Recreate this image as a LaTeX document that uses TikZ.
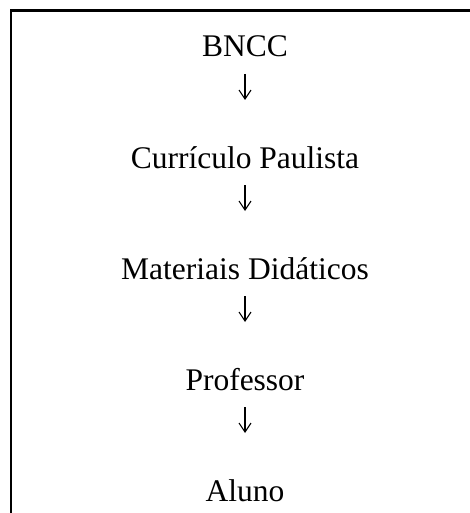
\documentclass[tikz,border=0pt]{standalone}
\usepackage{fontspec}
\setmainfont{Liberation Serif}
\usetikzlibrary{arrows.meta}
\begin{document}
\begin{tikzpicture}[x=1pt,y=1pt,
  lbl/.style={anchor=base,inner sep=0pt,font=\fontsize{31.5}{37}\selectfont},
  arr/.style={line width=1.1pt,-{Straight Barb[length=9pt,width=12pt]},shorten <=17pt,shorten >=68pt},
  frame/.style={line width=2.3pt,line join=miter}]
\useasboundingbox (0,0) rectangle (470,-513);
\fill[white] (0,0) rectangle (470,-513);
\draw[frame] (11,-520) -- (11,-10.5) -- (480,-10.5);
\node[lbl] (n1) at (245,-57) {BNCC};
\node[lbl] (n2) at (245,-168) {Currículo Paulista};
\node[lbl] (n3) at (245,-279) {Materiais Didáticos};
\node[lbl] (n4) at (245,-390) {Professor};
\node[lbl] (n5) at (245,-501) {Aluno};
\draw[arr] (n1.base) -- (n2.base);
\draw[arr] (n2.base) -- (n3.base);
\draw[arr] (n3.base) -- (n4.base);
\draw[arr] (n4.base) -- (n5.base);
\end{tikzpicture}
\end{document}
